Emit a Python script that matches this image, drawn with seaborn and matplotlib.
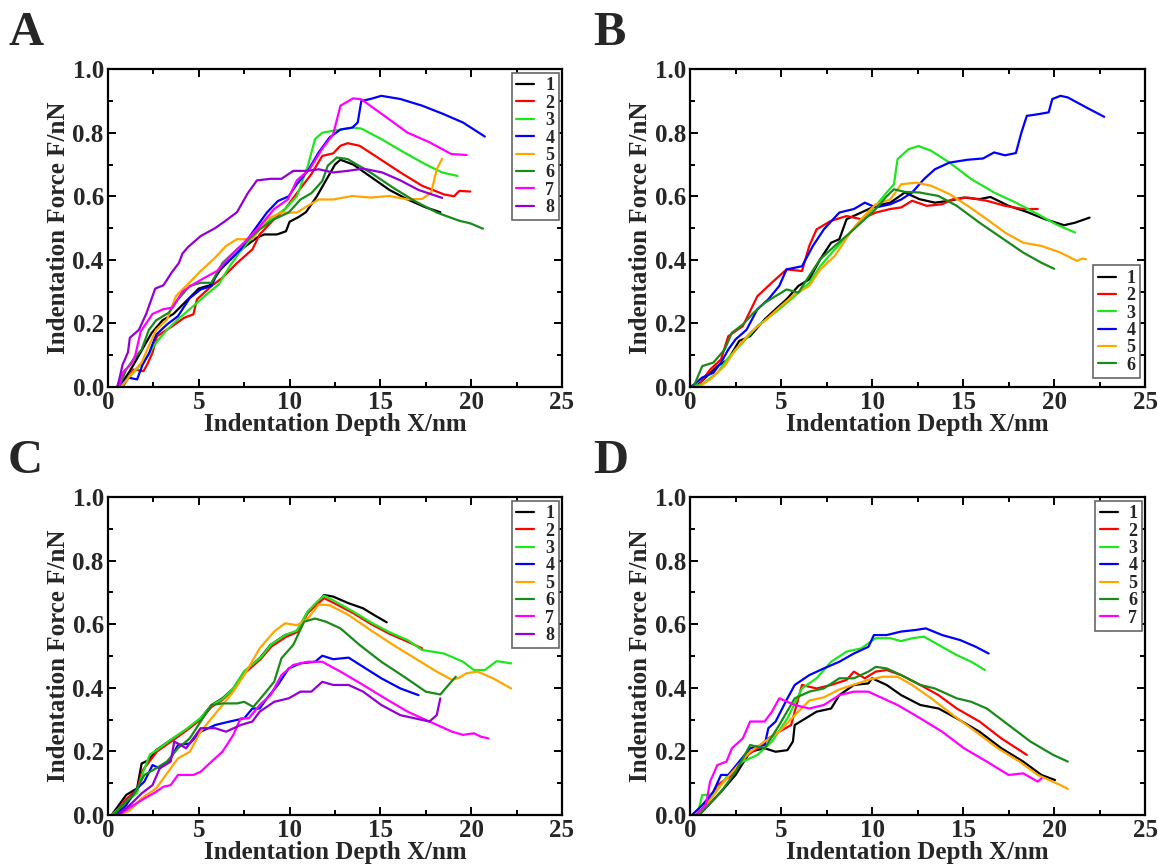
import matplotlib
matplotlib.use("Agg")
import matplotlib.pyplot as plt
import pandas as pd
import seaborn as sns
from matplotlib.lines import Line2D
from matplotlib.ticker import MultipleLocator

# ---------------- data ----------------
# Panel A
A1_x = [0.6, 1.2, 1.8, 2.4, 3.0, 3.6, 4.3, 5.0, 5.6, 6.2, 6.9, 7.5, 8.2, 8.6, 9.3, 9.8, 10.0, 10.5, 10.9, 11.5, 12.0, 12.5, 12.8, 13.5, 14.5, 15.5, 16.5, 17.5, 18.3]
A1_y = [0.0, 0.05, 0.11, 0.17, 0.21, 0.23, 0.27, 0.31, 0.32, 0.37, 0.41, 0.44, 0.47, 0.48, 0.48, 0.49, 0.52, 0.535, 0.55, 0.60, 0.65, 0.70, 0.715, 0.70, 0.66, 0.62, 0.59, 0.565, 0.55]
A2_x = [0.8, 1.4, 1.95, 2.15, 2.45, 2.7, 3.5, 4.2, 4.7, 4.9, 5.7, 6.3, 7.1, 7.95, 8.35, 9.15, 9.75, 10.4, 11.2, 11.8, 12.4, 12.8, 13.2, 13.85, 14.85, 16.1, 17.3, 18.5, 19.05, 19.35, 19.95]
A2_y = [0.0, 0.055, 0.05, 0.07, 0.108, 0.16, 0.19, 0.218, 0.229, 0.276, 0.318, 0.344, 0.39, 0.433, 0.48, 0.528, 0.56, 0.61, 0.67, 0.727, 0.735, 0.759, 0.767, 0.759, 0.722, 0.675, 0.633, 0.606, 0.60, 0.617, 0.615]
A3_x = [0.7, 1.4, 2.05, 2.65, 3.25, 3.85, 4.7, 5.4, 6.1, 6.7, 7.3, 8.15, 8.95, 9.75, 10.4, 11.0, 11.4, 11.8, 12.4, 13.45, 13.95, 15.05, 16.3, 17.5, 18.4, 19.25]
A3_y = [0.0, 0.045, 0.087, 0.14, 0.18, 0.213, 0.255, 0.29, 0.323, 0.38, 0.428, 0.486, 0.528, 0.56, 0.60, 0.695, 0.78, 0.80, 0.806, 0.816, 0.813, 0.78, 0.738, 0.70, 0.675, 0.664]
A4_x = [0.6, 1.1, 1.6, 1.9, 2.25, 2.65, 3.25, 3.85, 4.5, 5.1, 5.7, 6.1, 6.7, 7.3, 7.95, 8.75, 9.35, 9.95, 10.4, 11.0, 11.6, 12.2, 12.8, 13.45, 13.75, 13.95, 14.45, 15.05, 16.1, 17.3, 18.5, 19.55, 20.75]
A4_y = [0.0, 0.03, 0.024, 0.07, 0.105, 0.165, 0.197, 0.223, 0.28, 0.307, 0.318, 0.37, 0.40, 0.433, 0.486, 0.549, 0.585, 0.60, 0.638, 0.68, 0.738, 0.785, 0.81, 0.816, 0.832, 0.90, 0.906, 0.916, 0.906, 0.885, 0.858, 0.832, 0.788]
A5_x = [0.7, 1.2, 1.85, 2.25, 2.65, 3.25, 3.75, 4.3, 5.1, 5.9, 6.5, 7.1, 7.95, 8.75, 9.55, 10.4, 11.0, 11.6, 12.4, 13.45, 14.45, 15.5, 16.5, 17.3, 17.8, 18.1, 18.4]
A5_y = [0.0, 0.035, 0.077, 0.13, 0.18, 0.213, 0.287, 0.318, 0.365, 0.407, 0.444, 0.465, 0.465, 0.528, 0.549, 0.549, 0.57, 0.59, 0.59, 0.601, 0.596, 0.601, 0.59, 0.592, 0.612, 0.685, 0.718]
A6_x = [0.6, 1.0, 1.4, 1.85, 2.25, 2.65, 3.35, 3.85, 4.5, 5.1, 5.7, 6.3, 7.1, 7.75, 8.35, 9.15, 9.95, 10.6, 11.2, 11.8, 12.1, 12.6, 13.2, 14.45, 15.7, 16.9, 18.1, 19.35, 19.95, 20.65]
A6_y = [0.0, 0.055, 0.087, 0.118, 0.18, 0.21, 0.234, 0.276, 0.318, 0.328, 0.328, 0.39, 0.433, 0.465, 0.496, 0.528, 0.549, 0.59, 0.61, 0.648, 0.696, 0.722, 0.717, 0.675, 0.627, 0.585, 0.549, 0.523, 0.515, 0.498]
A7_x = [0.6, 0.8, 1.3, 1.5, 1.8, 2.45, 3.05, 3.55, 4.1, 4.6, 5.2, 6.0, 6.7, 7.5, 8.35, 9.15, 9.9, 10.4, 11.1, 11.8, 12.4, 12.8, 13.5, 13.95, 15.1, 16.5, 17.7, 18.9, 19.75]
A7_y = [0.0, 0.045, 0.075, 0.10, 0.175, 0.23, 0.245, 0.25, 0.30, 0.32, 0.34, 0.365, 0.41, 0.455, 0.505, 0.56, 0.59, 0.65, 0.685, 0.75, 0.795, 0.885, 0.908, 0.905, 0.858, 0.80, 0.77, 0.733, 0.73]
A8_x = [0.5, 0.6, 0.8, 1.1, 1.2, 1.7, 2.1, 2.6, 3.05, 3.5, 3.9, 4.1, 4.4, 5.1, 5.9, 6.4, 7.1, 7.7, 8.2, 8.95, 9.55, 10.2, 11.0, 11.6, 12.4, 13.2, 14.05, 15.1, 16.1, 17.1, 18.4]
A8_y = [0.0, 0.02, 0.07, 0.11, 0.155, 0.18, 0.23, 0.31, 0.32, 0.36, 0.39, 0.42, 0.44, 0.475, 0.50, 0.52, 0.55, 0.61, 0.65, 0.655, 0.655, 0.68, 0.68, 0.685, 0.675, 0.68, 0.687, 0.675, 0.65, 0.62, 0.595]

# Panel B
B1_x = [0.3, 0.85, 1.5, 2.1, 2.7, 3.3, 4.1, 4.7, 5.3, 5.95, 6.55, 7.15, 7.75, 8.2, 8.6, 9.4, 10.2, 11.0, 11.8, 12.6, 13.45, 14.25, 15.05, 15.9, 16.5, 17.5, 18.5, 19.5, 20.55, 21.15, 21.95]
B1_y = [0.0, 0.03, 0.066, 0.087, 0.145, 0.16, 0.213, 0.245, 0.276, 0.318, 0.339, 0.402, 0.454, 0.465, 0.528, 0.549, 0.57, 0.58, 0.612, 0.591, 0.58, 0.586, 0.596, 0.591, 0.598, 0.57, 0.551, 0.528, 0.509, 0.517, 0.533]
B2_x = [0.4, 1.1, 1.7, 2.1, 2.9, 3.7, 4.3, 4.6, 5.3, 6.15, 6.55, 6.95, 7.75, 8.6, 9.4, 10.2, 11.0, 11.6, 12.2, 13.0, 13.85, 14.45, 15.25, 16.3, 17.3, 18.3, 19.1]
B2_y = [0.0, 0.055, 0.087, 0.16, 0.192, 0.286, 0.318, 0.334, 0.37, 0.365, 0.444, 0.496, 0.523, 0.538, 0.528, 0.549, 0.56, 0.565, 0.586, 0.57, 0.575, 0.591, 0.596, 0.586, 0.57, 0.56, 0.56]
B3_x = [0.1, 0.7, 1.5, 2.1, 2.9, 3.7, 4.3, 4.9, 5.75, 6.55, 7.15, 7.95, 8.8, 9.6, 10.2, 10.8, 11.2, 11.4, 12.0, 12.55, 13.25, 14.25, 15.45, 16.7, 17.9, 19.1, 20.1, 21.15]
B3_y = [0.0, 0.01, 0.045, 0.092, 0.14, 0.192, 0.218, 0.245, 0.286, 0.328, 0.38, 0.433, 0.486, 0.538, 0.57, 0.612, 0.638, 0.717, 0.748, 0.758, 0.743, 0.706, 0.654, 0.612, 0.58, 0.544, 0.512, 0.486]
B4_x = [0.0, 0.26, 0.67, 1.28, 1.7, 2.1, 2.5, 3.1, 3.7, 4.3, 4.9, 5.3, 6.15, 6.75, 7.35, 8.2, 9.0, 9.6, 10.2, 11.0, 11.6, 12.2, 12.85, 13.45, 14.25, 15.25, 16.1, 16.7, 17.3, 17.9, 18.2, 18.5, 19.1, 19.7, 19.9, 20.35, 20.75, 21.75, 22.75]
B4_y = [0.0, 0.01, 0.03, 0.045, 0.077, 0.118, 0.15, 0.18, 0.245, 0.276, 0.318, 0.37, 0.38, 0.444, 0.496, 0.549, 0.56, 0.58, 0.565, 0.575, 0.59, 0.612, 0.654, 0.685, 0.706, 0.715, 0.719, 0.738, 0.729, 0.736, 0.80, 0.853, 0.858, 0.864, 0.906, 0.916, 0.911, 0.88, 0.85]
B5_x = [0.47, 1.1, 1.9, 2.5, 3.3, 4.1, 4.9, 5.75, 6.55, 7.15, 7.95, 8.8, 9.4, 10.2, 11.0, 11.6, 12.45, 13.25, 14.25, 15.25, 16.3, 17.3, 18.3, 19.3, 20.35, 21.25, 21.55, 21.75]
B5_y = [0.0, 0.024, 0.066, 0.118, 0.171, 0.208, 0.25, 0.292, 0.318, 0.37, 0.412, 0.486, 0.528, 0.575, 0.59, 0.638, 0.643, 0.633, 0.607, 0.57, 0.528, 0.486, 0.454, 0.444, 0.423, 0.397, 0.404, 0.402]
B6_x = [0.1, 0.26, 0.67, 1.28, 1.9, 2.3, 2.9, 3.5, 4.1, 4.7, 5.3, 5.95, 6.55, 7.15, 7.95, 8.8, 9.6, 10.2, 10.8, 11.2, 11.8, 12.6, 13.65, 14.65, 15.9, 17.1, 18.3, 19.3, 20.0]
B6_y = [0.0, 0.01, 0.066, 0.077, 0.118, 0.171, 0.197, 0.234, 0.265, 0.286, 0.307, 0.297, 0.35, 0.402, 0.444, 0.486, 0.528, 0.56, 0.60, 0.622, 0.614, 0.612, 0.601, 0.57, 0.517, 0.47, 0.423, 0.391, 0.372]

# Panel C
C1_x = [0.2, 1.0, 1.6, 1.85, 2.25, 2.65, 3.45, 4.3, 5.1, 5.7, 6.3, 6.9, 7.5, 8.35, 8.95, 9.75, 10.4, 11.0, 11.5, 11.9, 12.4, 13.25, 14.05, 14.65, 15.35]
C1_y = [0.0, 0.063, 0.084, 0.162, 0.173, 0.204, 0.236, 0.267, 0.304, 0.346, 0.367, 0.398, 0.451, 0.493, 0.535, 0.566, 0.577, 0.639, 0.666, 0.692, 0.687, 0.666, 0.65, 0.629, 0.606]
C2_x = [0.3, 1.0, 1.6, 1.9, 2.3, 2.7, 3.5, 4.3, 5.1, 5.7, 6.3, 6.9, 7.5, 8.4, 9.0, 9.8, 10.4, 11.0, 11.5, 11.9, 12.5, 13.5, 14.5, 15.5, 16.5, 17.3]
C2_y = [0.0, 0.05, 0.08, 0.14, 0.17, 0.20, 0.232, 0.265, 0.30, 0.34, 0.362, 0.395, 0.445, 0.49, 0.53, 0.56, 0.575, 0.635, 0.662, 0.682, 0.665, 0.635, 0.60, 0.57, 0.545, 0.524]
C3_x = [0.2, 1.0, 1.6, 1.9, 2.3, 2.7, 3.5, 4.3, 5.1, 5.7, 6.3, 6.9, 7.5, 8.4, 9.0, 9.8, 10.4, 11.0, 11.5, 11.9, 12.5, 13.5, 14.5, 15.5, 16.5, 17.3, 18.5, 19.55, 20.15, 20.75, 21.4, 22.2]
C3_y = [0.0, 0.04, 0.07, 0.13, 0.19, 0.205, 0.238, 0.27, 0.305, 0.345, 0.365, 0.398, 0.452, 0.495, 0.537, 0.567, 0.58, 0.64, 0.67, 0.69, 0.672, 0.64, 0.605, 0.575, 0.55, 0.519, 0.508, 0.482, 0.456, 0.456, 0.484, 0.477]
C4_x = [0.4, 1.0, 1.6, 2.0, 2.45, 2.85, 3.45, 3.85, 4.5, 5.1, 5.9, 6.7, 7.5, 7.95, 8.35, 8.75, 9.35, 9.95, 10.6, 11.4, 11.8, 12.4, 13.25, 14.05, 15.05, 16.1, 17.1]
C4_y = [0.0, 0.031, 0.084, 0.105, 0.157, 0.147, 0.178, 0.22, 0.225, 0.262, 0.283, 0.294, 0.304, 0.335, 0.335, 0.367, 0.409, 0.461, 0.477, 0.482, 0.501, 0.49, 0.495, 0.466, 0.43, 0.398, 0.377]
C5_x = [0.6, 1.2, 1.85, 2.65, 3.25, 3.85, 4.5, 5.1, 5.7, 6.3, 6.9, 7.5, 8.35, 9.15, 9.75, 10.4, 11.0, 11.6, 12.2, 13.25, 14.45, 15.7, 16.9, 18.1, 18.95, 19.35, 19.75, 20.35, 21.2, 22.2]
C5_y = [0.0, 0.015, 0.052, 0.084, 0.131, 0.178, 0.199, 0.262, 0.304, 0.346, 0.388, 0.44, 0.524, 0.577, 0.603, 0.597, 0.618, 0.662, 0.66, 0.629, 0.582, 0.535, 0.493, 0.451, 0.425, 0.432, 0.446, 0.451, 0.43, 0.398]
C6_x = [0.3, 0.8, 1.4, 2.0, 2.65, 3.25, 3.85, 4.5, 5.1, 5.7, 6.3, 7.1, 7.5, 8.0, 8.55, 9.15, 9.55, 10.2, 10.8, 11.4, 12.0, 12.8, 13.85, 15.05, 16.3, 17.5, 18.3, 18.75, 19.15]
C6_y = [0.0, 0.031, 0.063, 0.126, 0.147, 0.168, 0.21, 0.241, 0.294, 0.346, 0.351, 0.351, 0.356, 0.34, 0.377, 0.419, 0.493, 0.535, 0.608, 0.618, 0.608, 0.587, 0.535, 0.482, 0.435, 0.388, 0.379, 0.409, 0.435]
C7_x = [0.6, 1.4, 2.0, 2.65, 3.05, 3.45, 3.85, 4.7, 5.1, 5.7, 6.3, 6.9, 7.3, 7.75, 8.35, 8.95, 9.55, 10.2, 11.0, 11.8, 12.8, 14.05, 15.25, 16.5, 17.7, 18.95, 19.55, 20.15, 20.55, 20.95]
C7_y = [0.0, 0.031, 0.052, 0.073, 0.089, 0.094, 0.126, 0.126, 0.136, 0.168, 0.199, 0.252, 0.304, 0.304, 0.346, 0.377, 0.44, 0.472, 0.482, 0.482, 0.451, 0.409, 0.367, 0.325, 0.294, 0.262, 0.252, 0.257, 0.246, 0.241]
C8_x = [0.5, 1.2, 1.85, 2.45, 2.85, 3.45, 3.65, 4.3, 5.1, 5.9, 6.5, 7.3, 7.95, 8.35, 9.15, 9.95, 10.6, 11.2, 11.8, 12.4, 13.25, 14.05, 15.05, 16.1, 16.9, 17.7, 18.1, 18.3]
C8_y = [0.0, 0.031, 0.068, 0.094, 0.147, 0.168, 0.231, 0.21, 0.273, 0.273, 0.262, 0.283, 0.294, 0.325, 0.356, 0.367, 0.388, 0.388, 0.419, 0.409, 0.409, 0.388, 0.346, 0.314, 0.304, 0.294, 0.314, 0.367]

# Panel D
D1_x = [0.5, 1.7, 2.5, 3.3, 4.1, 4.7, 5.35, 5.65, 5.75, 6.35, 6.95, 7.75, 8.2, 9.0, 9.8, 10.0, 10.8, 11.6, 12.65, 13.65, 14.65, 15.9, 17.1, 18.3, 19.3, 20.05]
D1_y = [0.0, 0.073, 0.126, 0.199, 0.21, 0.199, 0.204, 0.231, 0.283, 0.304, 0.325, 0.335, 0.377, 0.409, 0.414, 0.43, 0.409, 0.377, 0.346, 0.335, 0.304, 0.262, 0.21, 0.168, 0.126, 0.11]
D2_x = [0.5, 1.5, 2.3, 2.9, 3.7, 4.3, 4.9, 5.55, 6.15, 6.95, 7.75, 8.6, 9.0, 9.6, 10.2, 10.8, 11.6, 12.65, 13.65, 14.65, 15.9, 17.1, 18.5]
D2_y = [0.0, 0.094, 0.126, 0.178, 0.21, 0.241, 0.262, 0.283, 0.409, 0.398, 0.409, 0.425, 0.451, 0.43, 0.451, 0.456, 0.44, 0.409, 0.377, 0.335, 0.294, 0.241, 0.189]
D3_x = [0.4, 0.67, 1.28, 2.1, 2.9, 3.7, 4.5, 5.35, 6.15, 6.95, 7.75, 8.6, 9.4, 10.2, 11.0, 11.6, 12.2, 12.85, 13.65, 14.65, 15.45, 16.2]
D3_y = [0.0, 0.063, 0.063, 0.126, 0.168, 0.189, 0.231, 0.304, 0.398, 0.43, 0.482, 0.514, 0.524, 0.556, 0.556, 0.547, 0.556, 0.561, 0.535, 0.503, 0.482, 0.456]
D4_x = [0.1, 0.67, 1.28, 1.7, 2.1, 2.7, 3.3, 4.1, 4.3, 4.7, 5.35, 5.75, 6.55, 7.35, 8.2, 9.0, 9.8, 10.1, 10.8, 11.6, 12.4, 12.95, 13.85, 14.85, 15.7, 16.4]
D4_y = [0.0, 0.031, 0.073, 0.126, 0.126, 0.168, 0.21, 0.22, 0.273, 0.294, 0.367, 0.409, 0.44, 0.461, 0.482, 0.508, 0.529, 0.566, 0.566, 0.577, 0.582, 0.587, 0.566, 0.55, 0.529, 0.508]
D5_x = [0.5, 1.7, 2.5, 3.3, 4.1, 4.9, 5.75, 6.55, 7.35, 8.2, 9.0, 9.8, 10.6, 11.4, 12.2, 13.25, 14.45, 15.7, 16.9, 18.1, 19.1, 20.35, 20.75]
D5_y = [0.0, 0.094, 0.147, 0.199, 0.231, 0.262, 0.314, 0.36, 0.37, 0.395, 0.41, 0.425, 0.435, 0.435, 0.409, 0.367, 0.314, 0.262, 0.21, 0.168, 0.126, 0.094, 0.082]
D6_x = [0.5, 1.7, 2.5, 3.3, 4.1, 4.9, 5.75, 6.55, 7.35, 8.2, 9.0, 9.8, 10.2, 10.8, 11.6, 12.65, 13.45, 14.65, 15.45, 16.3, 17.5, 18.7, 19.95, 20.75]
D6_y = [0.0, 0.073, 0.136, 0.22, 0.21, 0.283, 0.367, 0.388, 0.398, 0.43, 0.43, 0.451, 0.466, 0.461, 0.44, 0.409, 0.398, 0.367, 0.356, 0.335, 0.283, 0.231, 0.189, 0.168]
D7_x = [0.3, 0.87, 1.1, 1.5, 2.0, 2.3, 2.9, 3.3, 4.1, 4.5, 4.9, 5.35, 5.75, 6.55, 7.35, 8.2, 9.0, 9.8, 10.4, 11.4, 12.65, 13.85, 15.05, 16.3, 17.5, 18.3, 19.1, 19.3]
D7_y = [0.0, 0.031, 0.105, 0.157, 0.168, 0.21, 0.241, 0.294, 0.294, 0.325, 0.367, 0.356, 0.346, 0.335, 0.346, 0.377, 0.388, 0.388, 0.372, 0.346, 0.304, 0.262, 0.21, 0.168, 0.126, 0.131, 0.105, 0.115]

A_curves = [(A1_x, A1_y), (A2_x, A2_y), (A3_x, A3_y), (A4_x, A4_y), (A5_x, A5_y), (A6_x, A6_y), (A7_x, A7_y), (A8_x, A8_y)]
B_curves = [(B1_x, B1_y), (B2_x, B2_y), (B3_x, B3_y), (B4_x, B4_y), (B5_x, B5_y), (B6_x, B6_y)]
C_curves = [(C1_x, C1_y), (C2_x, C2_y), (C3_x, C3_y), (C4_x, C4_y), (C5_x, C5_y), (C6_x, C6_y), (C7_x, C7_y), (C8_x, C8_y)]
D_curves = [(D1_x, D1_y), (D2_x, D2_y), (D3_x, D3_y), (D4_x, D4_y), (D5_x, D5_y), (D6_x, D6_y), (D7_x, D7_y)]

x_label = "Indentation Depth X/nm"
y_label = "Indentation Force F/nN"
panel_letters = ["A", "B", "C", "D"]

colors = ["#000000", "#ff0000", "#1ee61e", "#0000ff", "#ffa500", "#1a8a1a", "#ff00ff", "#9400d3"]

# ---------------- style ----------------
sns.set_theme(style="ticks")
plt.rcParams["font.family"] = ["Liberation Serif", "DejaVu Serif"]
plt.rcParams["font.weight"] = "bold"
plt.rcParams["axes.labelweight"] = "bold"

fig = plt.figure(figsize=(11.58, 8.64), dpi=100)

positions = {
    "A": [0.0933, 0.552, 0.392, 0.368],
    "B": [0.5959, 0.552, 0.393, 0.368],
    "C": [0.0933, 0.0567, 0.392, 0.368],
    "D": [0.5959, 0.0567, 0.393, 0.368],
}
legend_anchor = {
    "A": ("upper right", (0.993, 0.988)),
    "B": ("lower right", (0.989, 0.028)),
    "C": ("upper right", (0.993, 0.988)),
    "D": ("upper right", (0.993, 0.988)),
}
letter_pos = {"A": (0.007, 0.948), "B": (0.512, 0.948), "C": (0.007, 0.4525), "D": (0.512, 0.4525)}


def draw_panel(key, curves):
    ax = fig.add_axes(positions[key])
    labels = [str(i + 1) for i in range(len(curves))]
    frames = []
    for lab, (xs, ys) in zip(labels, curves):
        frames.append(pd.DataFrame({"x": xs, "y": ys, "curve": lab}))
    df = pd.concat(frames, ignore_index=True)
    pal = colors[:len(curves)]
    sns.lineplot(data=df, x="x", y="y", hue="curve", hue_order=labels, palette=pal,
                 sort=False, estimator=None, linewidth=1.6, legend=False, ax=ax)
    ax.set_xlim(0, 25)
    ax.set_ylim(0, 1.0)
    ax.xaxis.set_major_locator(MultipleLocator(5))
    ax.xaxis.set_minor_locator(MultipleLocator(2.5))
    ax.yaxis.set_major_locator(MultipleLocator(0.2))
    ax.yaxis.set_minor_locator(MultipleLocator(0.1))
    ax.tick_params(which="both", direction="in", top=True, right=True, width=1.4, color="black")
    ax.tick_params(which="major", length=6, labelsize=18, pad=3)
    ax.tick_params(which="minor", length=3.5)
    for t in ax.get_xticklabels() + ax.get_yticklabels():
        t.set_fontweight("bold")
    for s in ax.spines.values():
        s.set_linewidth(1.6)
        s.set_color("black")
    ax.set_xlabel(x_label, fontsize=18, fontweight="bold", labelpad=-1)
    ax.set_ylabel(y_label, fontsize=18, fontweight="bold", labelpad=2)
    handles = [Line2D([], [], color=c, lw=1.6) for c in pal]
    loc, anchor = legend_anchor[key]
    leg = ax.legend(handles, labels, loc=loc, bbox_to_anchor=anchor,
                    prop={"weight": "bold", "size": 13, "family": "Liberation Serif"},
                    frameon=True, fancybox=False, handlelength=1.0, handletextpad=0.6,
                    labelspacing=0.02, borderpad=0.25, borderaxespad=0.0)
    frame = leg.get_frame()
    frame.set_edgecolor("#666666")
    frame.set_linewidth(1.2)
    frame.set_alpha(1)
    lx, ly = letter_pos[key]
    fig.text(lx, ly, key, fontsize=35, fontweight="bold", va="baseline", ha="left")
    return ax


for key, curves in zip(panel_letters, [A_curves, B_curves, C_curves, D_curves]):
    draw_panel(key, curves)

fig.savefig("out.png", dpi=100, facecolor="white")
